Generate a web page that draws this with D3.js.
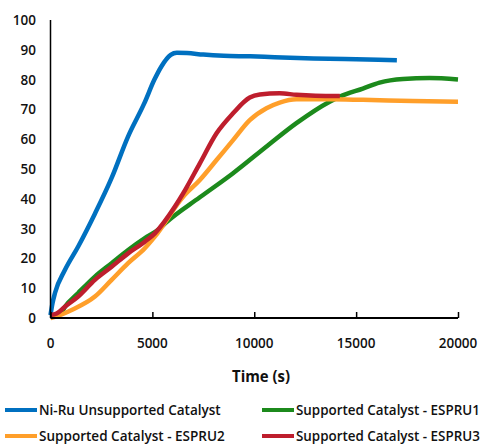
<!DOCTYPE html>
<html>
<head>
<meta charset="utf-8">
<script src="https://cdn.jsdelivr.net/npm/d3@7"></script>
<style>
  body { margin: 0; background: #fff; }
  text { font-family: "Open Sans", "Liberation Sans", sans-serif; fill: #111; }
</style>
</head>
<body>
<svg id="chart" width="486" height="446"></svg>
<script>
// values (time in s, percent)
var blueT  = [0, 100, 220, 700, 1360, 2180, 3000, 3800, 4600, 5100, 5450, 5900, 6200, 6700, 7500, 8500, 9800, 11000, 12900, 15000, 17000];
var blueV  = [1, 5, 8.4, 16, 24, 35, 47, 60.8, 72, 80, 84.5, 88.3, 89, 88.9, 88.4, 88, 87.8, 87.5, 87.1, 86.8, 86.5];

var greenT = [0, 500, 710, 1360, 2180, 3000, 3810, 4630, 5270, 5700, 7330, 8960, 10680, 12070, 13700, 14200, 15330, 16150, 17300, 18600, 20000];
var greenV = [0.5, 1.5, 3.8, 8.4, 13.9, 18.4, 22.8, 26.8, 29.5, 32.2, 40.5, 48.6, 58, 65.4, 72.6, 74.3, 77, 79, 80.2, 80.5, 80];

var orangeT = [0, 220, 1040, 2180, 3000, 3810, 4630, 5120, 6510, 7330, 8150, 8960, 9780, 10600, 11250, 12070, 13700, 15330, 17780, 20000];
var orangeV = [0, 0.4, 2.7, 7.2, 12.8, 18.4, 23.4, 27.3, 40.7, 46.3, 53, 59.7, 66.4, 70.4, 72.3, 73.4, 73.4, 73.2, 72.8, 72.6];

var redT = [0, 300, 710, 1360, 2180, 3000, 3810, 4630, 5120, 6100, 6510, 7330, 8150, 8960, 9780, 10270, 11250, 12070, 13000, 14200];
var redV = [1, 1.5, 3.8, 7.2, 12.8, 17.2, 21.7, 25.6, 28.4, 37.3, 41.8, 51.9, 62, 68.7, 74, 75, 75.4, 74.9, 74.6, 74.5];

var seriesNames = ["Ni-Ru Unsupported Catalyst", "Supported Catalyst - ESPRU1", "Supported Catalyst - ESPRU2", "Supported Catalyst - ESPRU3"];
var seriesColors = ["#0070C0", "#1C8A1C", "#FF9F2A", "#BE1E2D"];
var xTicks = [0, 5000, 10000, 15000, 20000];
var yTicks = [0, 10, 20, 30, 40, 50, 60, 70, 80, 90, 100];

var svg = d3.select("#chart");

var x = d3.scaleLinear().domain([0, 20000]).range([50.5, 458]);
var y = d3.scaleLinear().domain([0, 100]).range([318, 20]);

function zipUp(t, v) {
    var out = [];
    for (var i = 0; i < t.length; i++) {
        out.push([t[i], v[i]]);
    }
    return out;
}

var series = [
    zipUp(blueT, blueV),
    zipUp(greenT, greenV),
    zipUp(orangeT, orangeV),
    zipUp(redT, redV)
];

var line = d3.line()
    .x(function(d) { return x(d[0]); })
    .y(function(d) { return y(d[1]); })
    .curve(d3.curveMonotoneX);

// draw order: blue, green, orange, red on top
for (var i = 0; i < series.length; i++) {
    svg.append("path")
        .attr("d", line(series[i]))
        .attr("fill", "none")
        .attr("stroke", seriesColors[i])
        .attr("stroke-width", 4.5)
        .attr("stroke-linejoin", "round");
}

// y axis: line only, labels on the left
svg.append("line")
    .attr("x1", x(0)).attr("x2", x(0))
    .attr("y1", y(100)).attr("y2", y(0))
    .attr("stroke", "#000").attr("stroke-width", 1.5);

svg.selectAll(".ylab").data(yTicks).enter().append("text")
    .attr("class", "ylab")
    .attr("x", 36)
    .attr("y", function(d) { return y(d) + 5; })
    .attr("text-anchor", "end")
    .attr("font-size", 13.5)
    .attr("font-weight", 600)
    .text(function(d) { return d; });

// x axis with ticks pointing up
var xAxis = d3.axisTop(x).tickValues(xTicks).tickSize(6).tickFormat("");
var gx = svg.append("g").attr("transform", "translate(0,318)").call(xAxis);
gx.select(".domain").attr("stroke", "#000").attr("stroke-width", 2).attr("d", "M" + x(0) + ",0H" + x(20000));
gx.selectAll(".tick line").attr("stroke", "#000").attr("stroke-width", 1.5);

svg.selectAll(".xlab").data(xTicks).enter().append("text")
    .attr("class", "xlab")
    .attr("x", function(d) { return x(d); })
    .attr("y", 348)
    .attr("text-anchor", "middle")
    .attr("font-size", 13.5)
    .attr("font-weight", 600)
    .text(function(d) { return d; });

svg.append("text")
    .attr("x", 261)
    .attr("y", 382)
    .attr("text-anchor", "middle")
    .attr("font-size", 16)
    .attr("font-weight", 700)
    .attr("textLength", 58)
    .attr("lengthAdjust", "spacingAndGlyphs")
    .text("Time (s)");

// legend, two columns; shrink the font until each label fits its slot
var legendPos = [[5, 410], [262, 410], [5, 436], [262, 436]];
var legendWidths = [182, 184, 186, 184];
for (var k = 0; k < seriesNames.length; k++) {
    var lx = legendPos[k][0], ly = legendPos[k][1];
    svg.append("line")
        .attr("x1", lx).attr("x2", lx + 32)
        .attr("y1", ly).attr("y2", ly)
        .attr("stroke", seriesColors[k])
        .attr("stroke-width", 4);
    var lab = svg.append("text")
        .attr("x", lx + 34)
        .attr("y", ly + 5)
        .attr("font-size", 14.5)
        .attr("font-weight", 600)
        .text(seriesNames[k]);
    var w = lab.node().getComputedTextLength();
    if (w > legendWidths[k]) {
        lab.attr("font-size", 14.5 * legendWidths[k] / w);
    }
}
</script>
</body>
</html>
